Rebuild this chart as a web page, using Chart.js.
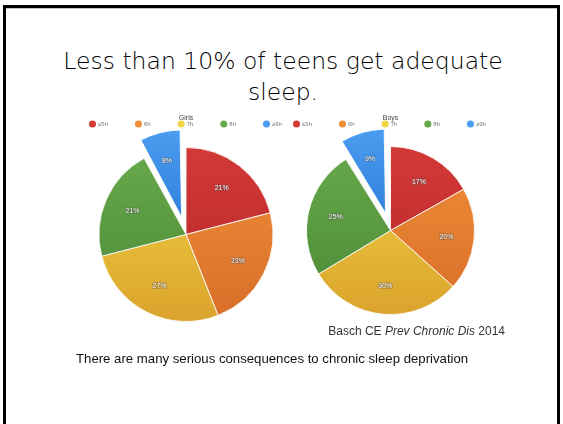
<!DOCTYPE html>
<html>
<head>
<meta charset="utf-8">
<script src="https://cdn.jsdelivr.net/npm/chart.js@4/dist/chart.umd.min.js"></script>
<style>
  html, body { margin: 0; padding: 0; background: #fff; }
  body { width: 563px; height: 424px; position: relative; overflow: hidden; font-family: "Liberation Sans", Arial, sans-serif; }
  .frame { position: absolute; left: 3px; top: 5px; width: 551px; height: 440px; border: 3px solid #000; border-bottom: none; }
  .frame-shade { position: absolute; left: 6px; top: 8px; width: 551px; height: 1px; background: #c4c4c4; }
  h1 { position: absolute; left: 0; top: 46px; width: 566px; margin: 0; text-align: center;
       font: 200 23.5px/31px "DejaVu Sans", sans-serif; color: #000; }
  canvas { position: absolute; }
  #girls { left: 62px; top: 114px; }
  #boys { left: 266px; top: 114px; }
  .cite { position: absolute; left: 0; top: 324px; width: 505px; text-align: right; font: 12px/15px "Liberation Sans", Arial, sans-serif; color: #333; white-space: nowrap; }
  .note { position: absolute; left: 76px; top: 351px; font: 13.2px/15px "Liberation Sans", Arial, sans-serif; color: #111; white-space: nowrap; }
</style>
</head>
<body>
<div class="frame"></div>
<div class="frame-shade"></div>
<h1>Less than 10% of teens get adequate<br>sleep.</h1>
<canvas id="girls" width="248" height="217"></canvas>
<canvas id="boys" width="249" height="209"></canvas>
<div class="cite">Basch CE <i>Prev Chronic Dis</i> 2014</div>
<div class="note">There are many serious consequences to chronic sleep deprivation</div>

<script>
// Hours of sleep on an average school night
const sleepBands = ['≤5h', '6h', '7h', '8h', '≥9h'];
// Percent of students in each band
const girlsShare = [21, 23, 27, 21, 8];
const boysShare = [17, 20, 30, 25, 9];
const chartTitles = ['Girls', 'Boys'];

// Light (top) and deep (bottom) shade of each band's colour
const bandTop = ['#d33a36', '#f08e38', '#f4d447', '#66a94a', '#4a9df0'];
const bandBottom = ['#b3232a', '#d86e29', '#daa32c', '#4c8936', '#1b63c9'];

const labelFont = '"Liberation Sans", Arial, sans-serif';
const labelRadius = 0.67;

// Vertical sheen across each slice
function sliceShade(ctx) {
  const i = ctx.dataIndex;
  const chart = ctx.chart;
  const area = chart.chartArea;
  if (!area) return bandTop[i];
  const r = ctx.dataset.radius;
  const cy = (area.top + area.bottom) / 2;
  const g = chart.ctx.createLinearGradient(0, cy - r, 0, cy + r);
  g.addColorStop(0, bandTop[i]);
  g.addColorStop(1, bandBottom[i]);
  return g;
}

// An offset slice normally grows a little; keep it at the pie's radius.
const keepRadius = {
  id: 'keepRadius',
  afterDatasetUpdate(chart, args) {
    args.meta.data.forEach(arc => {
      const shift = ((arc.options && arc.options.offset) || 0) / 4;
      if (!shift) return;
      const grow = shift * (1 - Math.sin(Math.min(Math.PI, arc.circumference)));
      arc.outerRadius -= grow;
    });
  }
};

// Percentage printed inside each slice
const sliceLabels = {
  id: 'sliceLabels',
  afterDatasetsDraw(chart) {
    const ctx = chart.ctx;
    const ds = chart.data.datasets[0];
    const meta = chart.getDatasetMeta(0);
    ctx.save();
    ctx.font = '7px ' + labelFont;
    ctx.textAlign = 'center';
    ctx.textBaseline = 'middle';
    ctx.lineJoin = 'round';
    meta.data.forEach((arc, i) => {
      const p = arc.getProps(['x', 'y', 'startAngle', 'endAngle']);
      const mid = (p.startAngle + p.endAngle) / 2;
      const shift = ((arc.options && arc.options.offset) || 0) / 4;
      const d = ds.radius * labelRadius + shift;
      const x = p.x + Math.cos(mid) * d;
      const y = p.y + Math.sin(mid) * d;
      const text = ds.data[i] + '%';
      ctx.strokeStyle = 'rgba(80,80,80,0.45)';
      ctx.lineWidth = 1.6;
      ctx.strokeText(text, x, y);
      ctx.fillStyle = 'rgba(255,255,255,0.95)';
      ctx.fillText(text, x, y);
    });
    ctx.restore();
  }
};

function makePie(id, title, values, radius) {
  const baseLabels = Chart.overrides.doughnut.plugins.legend.labels.generateLabels;
  return new Chart(document.getElementById(id), {
    type: 'pie',
    data: {
      labels: sleepBands,
      datasets: [{
        data: values,
        radius: radius,
        backgroundColor: sliceShade,
        borderColor: 'rgba(255,255,255,0.85)',
        borderWidth: 1,
        offset: [0, 0, 0, 0, 72],
        clip: false
      }]
    },
    options: {
      responsive: false,
      devicePixelRatio: 1,
      animation: false,
      events: [],
      layout: { padding: { top: 0, left: 0, right: 0, bottom: 20 } },
      plugins: {
        title: {
          display: true,
          text: title,
          color: '#444',
          font: { size: 7, family: labelFont, weight: 'normal' },
          padding: { top: 0, bottom: -29.4 }
        },
        legend: {
          position: 'top',
          align: 'start',
          labels: {
            usePointStyle: true,
            pointStyle: 'circle',
            boxWidth: 5,
            boxHeight: 5,
            padding: 28,
            color: '#777',
            font: { size: 6, family: labelFont },
            generateLabels(chart) {
              const items = baseLabels(chart);
              items.forEach(it => { it.fillStyle = bandTop[it.index]; it.lineWidth = 0; it.strokeStyle = 'rgba(0,0,0,0)'; });
              return items;
            }
          }
        },
        tooltip: { enabled: false }
      }
    },
    plugins: [keepRadius, sliceLabels]
  });
}

makePie('girls', chartTitles[0], girlsShare, 87);
makePie('boys', chartTitles[1], boysShare, 84);
</script>
</body>
</html>
